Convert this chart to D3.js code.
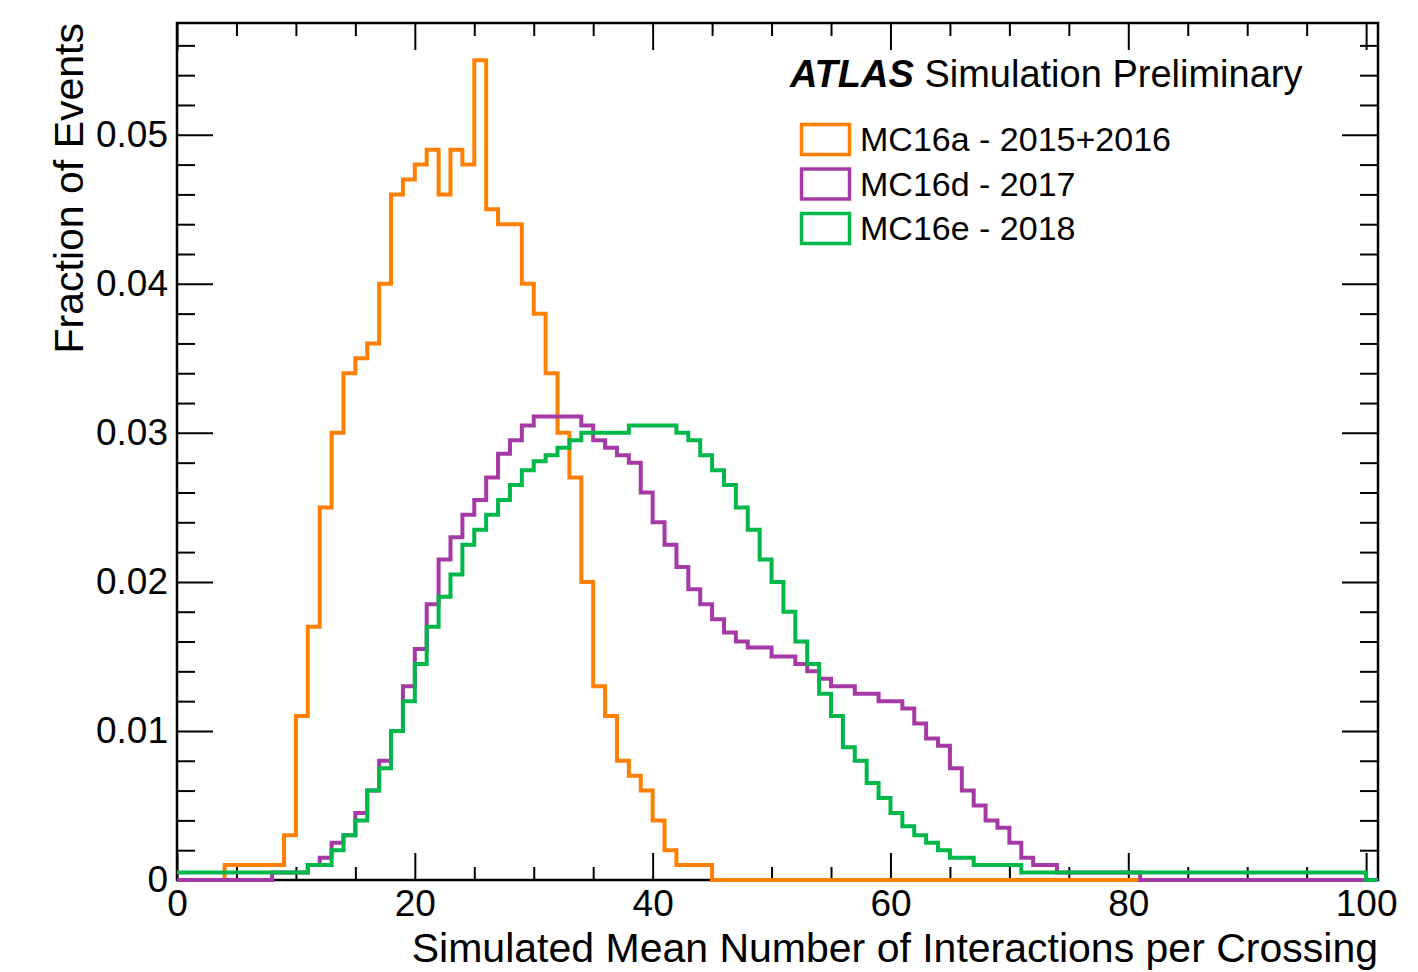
<!DOCTYPE html>
<html>
<head>
<meta charset="utf-8">
<script src="https://cdn.jsdelivr.net/npm/d3@7"></script>
<style>
  body { margin: 0; background: #fff; }
  svg { display: block; font-family: "Liberation Sans", Arial, Helvetica, sans-serif; }
</style>
</head>
<body>
<svg width="1418" height="972"></svg>
<script>

// DATA ––––––––––––––––––––––––––––––––––––––––––––––––––––––––––––––––
// one value per unit-wide bin, bins 0..100 (mu from 0 to 101)

var mc16a = [
  0, 0, 0, 0, 0.001, 0.001, 0.001, 0.001, 0.001, 0.003,
  0.011, 0.017, 0.025, 0.030, 0.034, 0.035, 0.036, 0.040, 0.046, 0.047,
  0.048, 0.049, 0.046, 0.049, 0.048, 0.055, 0.045, 0.044, 0.044, 0.040,
  0.038, 0.034, 0.030, 0.027, 0.020, 0.013, 0.011, 0.008, 0.007, 0.006,
  0.004, 0.002, 0.001, 0.001, 0.001, 0, 0, 0, 0, 0,
  0, 0, 0, 0, 0, 0, 0, 0, 0, 0,
  0, 0, 0, 0, 0, 0, 0, 0, 0, 0,
  0, 0, 0, 0, 0, 0, 0, 0, 0, 0,
  0, 0, 0, 0, 0, 0, 0, 0, 0, 0,
  0, 0, 0, 0, 0, 0, 0, 0, 0, 0,
  0
];

var mc16d = [
  0, 0, 0, 0, 0, 0, 0, 0, 0.0005, 0.0005,
  0.0005, 0.001, 0.0015, 0.0025, 0.003, 0.0045, 0.006, 0.008, 0.010, 0.013,
  0.0155, 0.0185, 0.0215, 0.023, 0.0245, 0.0255, 0.027, 0.0286, 0.0295, 0.0305,
  0.0311, 0.0311, 0.0311, 0.0311, 0.0305, 0.0295, 0.029, 0.0285, 0.028, 0.026,
  0.024, 0.0225, 0.021, 0.0195, 0.0185, 0.0175, 0.0166, 0.016, 0.0156, 0.0156,
  0.015, 0.015, 0.0145, 0.014, 0.0135, 0.013, 0.013, 0.0125, 0.0125, 0.012,
  0.012, 0.0115, 0.0105, 0.0095, 0.009, 0.0075, 0.006, 0.005, 0.004, 0.0035,
  0.0025, 0.0015, 0.001, 0.001, 0.0005, 0.0005, 0.0005, 0.0005, 0.0005, 0.0005,
  0.0005, 0, 0, 0, 0, 0, 0, 0, 0, 0,
  0, 0, 0, 0, 0, 0, 0, 0, 0, 0,
  0
];

var mc16e = [
  0.0005, 0.0005, 0.0005, 0.0005, 0.0005, 0.0005, 0.0005, 0.0005, 0.0005, 0.0005,
  0.0005, 0.001, 0.001, 0.002, 0.003, 0.004, 0.006, 0.0075, 0.010, 0.012,
  0.0145, 0.017, 0.019, 0.0205, 0.0225, 0.0235, 0.0245, 0.0255, 0.0265, 0.0275,
  0.0281, 0.0285, 0.029, 0.0295, 0.030, 0.030, 0.030, 0.030, 0.0305, 0.0305,
  0.0305, 0.0305, 0.030, 0.0295, 0.0285, 0.0275, 0.0265, 0.025, 0.0235, 0.0215,
  0.020, 0.018, 0.016, 0.0145, 0.0125, 0.011, 0.0089, 0.008, 0.0065, 0.0055,
  0.0045, 0.0036, 0.003, 0.0025, 0.002, 0.0015, 0.0015, 0.001, 0.001, 0.001,
  0.001, 0.0005, 0.0005, 0.0005, 0.0005, 0.0005, 0.0005, 0.0005, 0.0005, 0.0005,
  0.0005, 0.0005, 0.0005, 0.0005, 0.0005, 0.0005, 0.0005, 0.0005, 0.0005, 0.0005,
  0.0005, 0.0005, 0.0005, 0.0005, 0.0005, 0.0005, 0.0005, 0.0005, 0.0005, 0.0005,
  0
];

var legendLabels = ["MC16a - 2015+2016", "MC16d - 2017", "MC16e - 2018"];
var colors = ["#ff7f00", "#a53aa7", "#00b84a"];

var xMajorTicks = [0, 20, 40, 60, 80, 100];
var xMinorTicks = [5, 10, 15, 25, 30, 35, 45, 50, 55, 65, 70, 75, 85, 90, 95];
var yMajorTicks = [0, 0.01, 0.02, 0.03, 0.04, 0.05];
var yMinorTicks = [0.002, 0.004, 0.006, 0.008, 0.012, 0.014, 0.016, 0.018,
  0.022, 0.024, 0.026, 0.028, 0.032, 0.034, 0.036, 0.038,
  0.042, 0.044, 0.046, 0.048, 0.052, 0.054, 0.056];


// D3 ––––––––––––––––––––––––––––––––––––––––––––––––––––––––––––––––––

var draw = function() {

  var svg = d3.select("svg"),
    margin = {top: 23, right: 40, bottom: 92, left: 177},
    width = +svg.attr("width") - margin.left - margin.right,
    height = +svg.attr("height") - margin.top - margin.bottom,
    g = svg.append("g").attr("transform", "translate(" + margin.left + "," + margin.top + ")");

  var x = d3.scaleLinear()
    .domain([0, 101])
    .range([0, width]);

  var y = d3.scaleLinear()
    .domain([0, 0.0575])
    .range([height, 0]);

  var yFormat = function(d) { return d === 0 ? "0" : d3.format(".2f")(d); };

  // ticks on all four sides, pointing inwards (ROOT style)
  var axes = [
    {axis: d3.axisBottom(x).tickValues(xMajorTicks).tickSize(-27).tickPadding(10).tickFormat(d3.format("d")), at: [0, height]},
    {axis: d3.axisBottom(x).tickValues(xMinorTicks).tickSize(-13).tickFormat(""), at: [0, height]},
    {axis: d3.axisTop(x).tickValues(xMajorTicks).tickSize(-27).tickFormat(""), at: [0, 0]},
    {axis: d3.axisTop(x).tickValues(xMinorTicks).tickSize(-13).tickFormat(""), at: [0, 0]},
    {axis: d3.axisLeft(y).tickValues(yMajorTicks).tickSize(-36).tickPadding(9).tickFormat(yFormat), at: [0, 0]},
    {axis: d3.axisLeft(y).tickValues(yMinorTicks).tickSize(-18).tickFormat(""), at: [0, 0]},
    {axis: d3.axisRight(y).tickValues(yMajorTicks).tickSize(-36).tickFormat(""), at: [width, 0]},
    {axis: d3.axisRight(y).tickValues(yMinorTicks).tickSize(-18).tickFormat(""), at: [width, 0]}
  ];

  axes.forEach(function(a) {
    var ag = g.append("g")
      .attr("transform", "translate(" + a.at[0] + "," + a.at[1] + ")")
      .call(a.axis);
    ag.select(".domain").remove();
    ag.selectAll("line").attr("stroke", "#000").attr("stroke-width", 2);
    ag.selectAll("text")
      .attr("fill", "#000")
      .style("font-size", "37px")
      .style("font-family", "'Liberation Sans', Arial, sans-serif");
  });

  g.append("rect")
    .attr("width", width)
    .attr("height", height)
    .attr("fill", "none")
    .attr("stroke", "#000")
    .attr("stroke-width", 2.5);

  // histograms, drawn as steps; last bin repeated to close its right edge
  var line = d3.line()
    .x(function(d, i) { return x(i); })
    .y(function(d) { return y(d); })
    .curve(d3.curveStepAfter);

  [mc16a, mc16d, mc16e].forEach(function(data, i) {
    g.append("path")
      .datum(data.concat([data[data.length - 1]]))
      .attr("fill", "none")
      .attr("stroke", colors[i])
      .attr("stroke-width", 4)
      .attr("stroke-linejoin", "miter")
      .attr("d", line);
  });

  // axis titles
  svg.append("text")
    .attr("x", margin.left + width)
    .attr("y", 962)
    .attr("text-anchor", "end")
    .style("font-size", "41px")
    .text("Simulated Mean Number of Interactions per Crossing");

  svg.append("text")
    .attr("transform", "translate(83," + margin.top + ") rotate(-90)")
    .attr("text-anchor", "end")
    .style("font-size", "41px")
    .text("Fraction of Events");

  // ATLAS label
  var label = svg.append("text")
    .attr("x", 790)
    .attr("y", 87)
    .style("font-size", "38px");
  label.append("tspan")
    .attr("font-weight", "bold")
    .attr("font-style", "italic")
    .text("ATLAS");
  label.append("tspan")
    .text(" Simulation Preliminary");

  // legend
  var legend = svg.append("g").attr("transform", "translate(800,123)");
  legendLabels.forEach(function(name, i) {
    var row = legend.append("g").attr("transform", "translate(0," + (i * 44.5) + ")");
    row.append("rect")
      .attr("x", 1.5)
      .attr("y", 1.5)
      .attr("width", 48)
      .attr("height", 30)
      .attr("fill", "none")
      .attr("stroke", colors[i])
      .attr("stroke-width", 3.5);
    row.append("text")
      .attr("x", 60)
      .attr("y", 28)
      .style("font-size", "34px")
      .text(name);
  });
};

draw();
</script>
</body>
</html>
